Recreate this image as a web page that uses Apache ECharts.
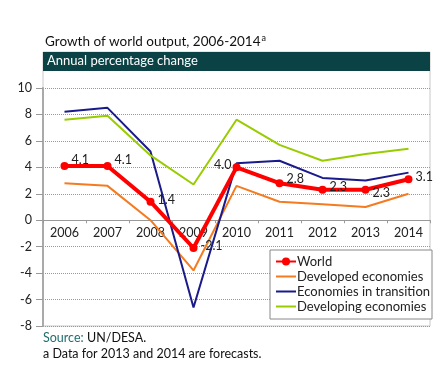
<!DOCTYPE html>
<html>
<head>
<meta charset="utf-8">
<script src="https://cdn.jsdelivr.net/npm/echarts@6/dist/echarts.min.js"></script>
<style>html,body{margin:0;padding:0;background:#fff;}#c{width:440px;height:380px;}</style>
</head>
<body>
<div id="c"></div>
<script>
var years = ['2006','2007','2008','2009','2010','2011','2012','2013','2014'];
var world = [4.1, 4.1, 1.4, -2.1, 4.0, 2.8, 2.3, 2.3, 3.1];
var developed = [2.8, 2.6, 0.0, -3.8, 2.6, 1.4, 1.2, 1.0, 2.0];
var transition = [8.2, 8.5, 5.2, -6.6, 4.3, 4.5, 3.2, 3.0, 3.6];
var developing = [7.6, 7.9, 4.9, 2.7, 7.6, 5.7, 4.5, 5.0, 5.4];
var yTicks = {min: -8, max: 10, interval: 2};
var worldLabelPos = [['right',[0,-6]],['right',[0,-6]],['right',[0,-2]],['right',[0,-2]],['left',[2,-2]],['right',[0,-4]],['right',[0,-3]],['right',[0,3]],['right',[0,-2]]];

var FONT = 'Lato, sans-serif';
var chart = echarts.init(document.getElementById('c'), null, {renderer: 'canvas'});

var worldData = world.map(function (v, i) {
  return {value: v, label: {position: worldLabelPos[i][0], offset: worldLabelPos[i][1]}};
});

chart.setOption({
  animation: false,
  textStyle: {fontFamily: FONT},
  grid: {left: 43, right: 10, top: 88, bottom: 54, containLabel: false},
  legend: {
    orient: 'vertical', left: 270, top: 250,
    itemWidth: 20, itemHeight: 10, itemGap: 2,
    padding: [5, 2, 6, 5],
    borderColor: '#888', borderWidth: 1, backgroundColor: '#fff',
    textStyle: {fontFamily: FONT, fontSize: 13, color: '#222', padding: [0, 0, 0, -4]},
    data: [
      {name: 'World'},
      {name: 'Developed economies', itemStyle: {opacity: 0}},
      {name: 'Economies in transition', itemStyle: {opacity: 0}},
      {name: 'Developing economies', itemStyle: {opacity: 0}}
    ]
  },
  xAxis: {
    type: 'category', data: years, boundaryGap: true,
    axisLine: {onZero: true, lineStyle: {color: '#999', width: 1}},
    axisTick: {show: true, length: 3, lineStyle: {color: '#999'}},
    axisLabel: {color: '#222', fontSize: 12.5, margin: 6, fontFamily: FONT}
  },
  yAxis: {
    type: 'value', min: yTicks.min, max: yTicks.max, interval: yTicks.interval,
    axisLine: {show: true, lineStyle: {color: '#aaa', width: 2}},
    axisTick: {show: true, length: 7, lineStyle: {color: '#999'}},
    axisLabel: {color: '#222', fontSize: 12.5, margin: 11, fontFamily: FONT},
    splitLine: {show: true, lineStyle: {color: '#999', type: [1, 1], width: 1}}
  },
  graphic: [
    {type: 'rect', shape: {x: 43, y: 52, width: 387, height: 274}, style: {fill: 'none', stroke: '#c8c8c8', lineWidth: 1}, silent: true, z: -1},
    {type: 'rect', shape: {x: 43, y: 52, width: 387, height: 19}, style: {fill: '#0b4245'}, silent: true},
    {type: 'text', left: 47, top: 54, style: {text: 'Annual percentage change', fill: '#fff', font: '13px ' + FONT}},
    {type: 'text', left: 45, top: 34, style: {
      text: '{t|Growth of world output, 2006-2014}{s|a}',
      rich: {t: {fontSize: 13.5, fontFamily: FONT, fill: '#111'}, s: {fontSize: 9, fontFamily: FONT, fill: '#111', verticalAlign: 'top', padding: [0, 0, 7, 1]}}
    }},
    {type: 'text', left: 43, top: 331, style: {
      text: '{a|Source:} {b|UN/DESA.}',
      rich: {a: {fontSize: 12.5, fontFamily: FONT, fill: '#1f6e70'}, b: {fontSize: 12.5, fontFamily: FONT, fill: '#111'}}
    }},
    {type: 'text', left: 43, top: 347, style: {text: 'a Data for 2013 and 2014 are forecasts.', font: '12.5px ' + FONT, fill: '#111'}}
  ],
  series: [
    {name: 'Developed economies', type: 'line', data: developed, symbol: 'none', lineStyle: {color: '#f47b20', width: 2}, itemStyle: {color: '#f47b20'}, z: 2},
    {name: 'Economies in transition', type: 'line', data: transition, symbol: 'none', lineStyle: {color: '#1a1a8a', width: 2}, itemStyle: {color: '#1a1a8a'}, z: 2},
    {name: 'Developing economies', type: 'line', data: developing, symbol: 'none', lineStyle: {color: '#99cc00', width: 2}, itemStyle: {color: '#99cc00'}, z: 2},
    {name: 'World', type: 'line', data: worldData, symbol: 'circle', symbolSize: 8, showSymbol: true,
      lineStyle: {color: '#ff0000', width: 4}, itemStyle: {color: '#ff0000'}, z: 5,
      label: {show: true, color: '#222', fontSize: 12.5, fontFamily: FONT, distance: 3,
        formatter: function (p) { return p.value.toFixed(1); }}
    }
  ]
});
// place the category axis on the zero line using the value axis scale
var zeroY = chart.convertToPixel({yAxisIndex: 0}, 0);
var bottomY = chart.convertToPixel({yAxisIndex: 0}, yTicks.min);
chart.setOption({xAxis: {axisLine: {onZero: false}, offset: -(bottomY - zeroY)}});
</script>
</body>
</html>
